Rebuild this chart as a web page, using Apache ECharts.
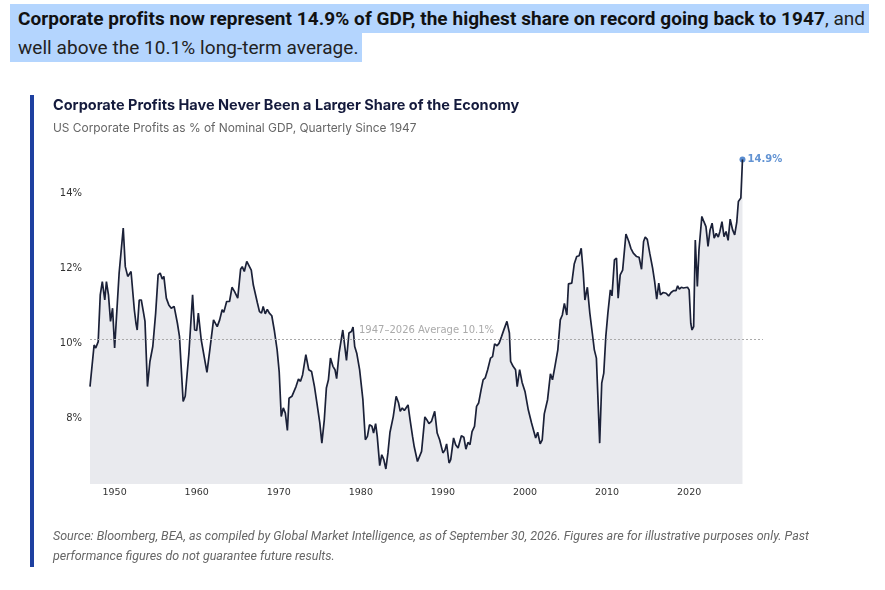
<!DOCTYPE html>
<html>
<head>
<meta charset="utf-8">
<script src="https://cdn.jsdelivr.net/npm/echarts@6/dist/echarts.min.js"></script>
<style>
  body { margin: 0; background: #fff; width: 885px; height: 590px; position: relative; overflow: hidden; }
  #main { position: absolute; left: 0; top: 0; width: 885px; height: 590px; }
  .hl { position: absolute; left: 10px; background: #b4d5fe; font-family: Roboto, sans-serif; font-size: 19px;
        color: #222; padding: 0 4px 0 8px; height: 29px; line-height: 29px; white-space: nowrap; letter-spacing: 0.05px; }
  .hl b { font-weight: 700; color: #111; }
  .bar { position: absolute; left: 30px; top: 95px; width: 4px; height: 472px; background: #1e40a0; }
  .title { position: absolute; left: 53px; top: 96px; font-family: Inter, sans-serif; font-weight: 700; font-size: 14.5px; color: #141a3c; white-space: nowrap; }
  .sub { position: absolute; left: 53px; top: 120px; font-family: Inter, sans-serif; font-size: 11.9px; color: #666; white-space: nowrap; }
  .note { position: absolute; left: 53px; top: 526px; font-family: Roboto, sans-serif; font-style: italic; font-size: 12.5px;
          color: #666; line-height: 20px; width: 775px; }
</style>
</head>
<body>
<div id="main"></div>
<div class="hl" style="top:4px"><b>Corporate profits now represent 14.9% of GDP, the highest share on record going back to 1947</b>, and</div>
<div class="hl" style="top:33px">well above the 10.1% long-term average.</div>
<div class="bar"></div>
<div class="title">Corporate Profits Have Never Been a Larger Share of the Economy</div>
<div class="sub">US Corporate Profits as % of Nominal GDP, Quarterly Since 1947</div>
<div class="note">Source: Bloomberg, BEA, as compiled by Global Market Intelligence, as of September 30, 2026. Figures are for illustrative purposes only. Past<br>performance figures do not guarantee future results.</div>
<script>
// [year, % of GDP]
const p1940s = [[1947.0,8.84],[1947.5,9.95],[1947.7,9.87],[1948.0,10.04],[1948.25,11.29],[1948.5,11.64],[1948.8,11.15],[1949.0,11.64],[1949.25,11.29],[1949.5,10.58],[1949.75,10.93]]
const p1950s = [[1950.0,9.87],[1950.55,11.87],[1951.05,13.07],[1951.3,12.04],[1951.6,11.78],[1951.8,11.73],[1952.0,11.91],[1952.4,10.89],[1952.6,10.53],[1952.75,10.35],[1953.0,11.15],[1953.25,11.15],[1953.5,10.84],[1953.7,10.58],[1954.0,8.84],[1954.3,9.51],[1954.65,9.91],[1955.0,10.8],[1955.3,11.82],[1955.55,11.87],[1955.8,11.71],[1956.0,11.78],[1956.3,11.2],[1956.6,11.02],[1956.9,10.93],[1957.25,10.98],[1957.65,10.53],[1957.9,10.18],[1958.35,8.44],[1958.6,8.58],[1959.05,9.73],[1959.5,11.29],[1959.75,10.35]]
const p1960s = [[1960.0,10.34],[1960.2,10.8],[1960.55,10.09],[1961.25,9.22],[1961.6,9.82],[1962.05,10.62],[1962.5,10.44],[1962.8,10.62],[1963.1,10.89],[1963.3,10.82],[1963.65,11.11],[1964.0,11.11],[1964.3,11.49],[1964.6,11.38],[1965.0,11.2],[1965.35,11.97],[1965.55,12.04],[1965.8,11.91],[1966.1,12.18],[1966.3,12.22],[1966.65,11.95],[1966.9,11.55],[1967.05,11.51],[1967.4,11.07],[1967.65,10.84],[1967.9,10.8],[1968.1,10.98],[1968.35,10.78],[1968.6,10.9],[1968.85,10.8],[1969.15,10.73],[1969.45,10.35],[1969.8,9.82]]
const p1970s = [[1970.05,9.24],[1970.3,8.04],[1970.55,8.27],[1970.8,8.13],[1971.05,7.67],[1971.25,8.53],[1971.6,8.58],[1971.8,8.62],[1972.1,8.84],[1972.4,9.04],[1972.65,8.98],[1972.9,9.15],[1973.3,9.69],[1973.65,9.29],[1974.0,9.24],[1974.35,8.84],[1974.65,8.4],[1975.0,7.87],[1975.25,7.33],[1975.55,7.96],[1975.8,8.8],[1976.05,9.02],[1976.3,9.6],[1976.6,9.38],[1976.85,9.29],[1977.05,9.05],[1977.35,9.73],[1977.8,10.35],[1978.25,9.54],[1978.55,10.27],[1978.85,10.31],[1979.05,10.43],[1979.25,9.91],[1979.5,9.73],[1979.85,9.29]]
const p1980s = [[1980.25,8.49],[1980.55,7.42],[1980.8,7.51],[1981.05,7.82],[1981.35,7.78],[1981.55,7.6],[1981.8,7.85],[1982.0,7.51],[1982.3,6.73],[1982.55,7.02],[1982.8,6.89],[1983.05,6.64],[1983.3,7.07],[1983.55,7.62],[1983.95,8.04],[1984.3,8.58],[1984.6,8.4],[1984.8,8.18],[1985.05,8.27],[1985.3,8.2],[1985.5,8.18],[1985.75,8.35],[1986.0,7.95],[1986.3,7.51],[1986.5,7.24],[1986.9,6.84],[1987.1,6.8],[1987.4,7.11],[1987.8,8.03],[1988.05,7.95],[1988.3,7.85],[1988.6,7.91],[1988.8,7.91],[1989.0,8.18],[1989.3,7.6],[1989.6,7.42]]
const p1990s = [[1990.0,7.07],[1990.25,7.15],[1990.45,7.31],[1990.75,6.8],[1990.95,6.89],[1991.3,7.47],[1991.55,7.29],[1991.85,7.2],[1992.05,7.18],[1992.25,7.53],[1992.55,7.49],[1992.8,7.17],[1993.05,7.35],[1993.3,7.29],[1993.55,7.64],[1993.85,7.78],[1994.1,8.31],[1994.35,8.4],[1994.65,8.75],[1994.9,9.02],[1995.15,9.07],[1995.45,9.29],[1995.8,9.6],[1996.05,9.64],[1996.3,9.98],[1996.6,9.93],[1996.85,10.0],[1997.15,10.18],[1997.4,10.34],[1997.8,10.58],[1998.1,10.27],[1998.25,9.51],[1998.55,9.38],[1998.85,9.29],[1999.05,8.84],[1999.35,9.29],[1999.65,8.95]]
const p2000s = [[2000.0,8.71],[2000.4,8.22],[2000.8,7.87],[2001.3,7.47],[2001.55,7.62],[2001.85,7.31],[2002.1,7.42],[2002.35,8.11],[2002.75,8.49],[2003.1,9.18],[2003.35,9.02],[2003.65,9.38],[2004.0,9.82],[2004.3,10.62],[2004.55,10.75],[2004.8,11.06],[2005.1,10.75],[2005.3,11.58],[2005.7,11.6],[2006.0,12.11],[2006.3,12.31],[2006.6,12.33],[2006.85,12.53],[2007.1,11.87],[2007.3,11.15],[2007.6,11.49],[2007.9,10.8],[2008.2,10.27],[2008.45,9.82],[2008.7,9.6],[2008.85,9.57],[2009.1,7.33],[2009.35,8.93],[2009.6,9.2],[2009.85,10.18]]
const p2010s = [[2010.1,10.8],[2010.4,11.42],[2010.6,11.26],[2010.9,12.22],[2011.15,12.27],[2011.35,11.2],[2011.6,11.82],[2011.9,11.95],[2012.3,12.91],[2012.65,12.71],[2012.9,12.53],[2013.2,12.4],[2013.6,12.31],[2013.9,12.29],[2014.2,11.97],[2014.45,12.71],[2014.65,12.83],[2014.9,12.77],[2015.2,12.4],[2015.55,12.0],[2015.8,11.64],[2016.05,11.17],[2016.3,11.6],[2016.5,11.29],[2016.85,11.35],[2017.2,11.33],[2017.5,11.26],[2017.8,11.35],[2018.1,11.4],[2018.4,11.4],[2018.6,11.53],[2018.8,11.44],[2019.05,11.49],[2019.3,11.47],[2019.5,11.51],[2019.8,11.49]]
const p2020s = [[2020.0,11.42],[2020.2,10.53],[2020.35,10.35],[2020.55,10.44],[2020.75,12.75],[2021.0,11.51],[2021.2,12.49],[2021.55,13.38],[2021.8,13.24],[2022.05,13.11],[2022.3,12.58],[2022.55,13.02],[2022.8,13.2],[2023.05,12.8],[2023.3,12.93],[2023.55,12.83],[2023.75,12.98],[2024.0,13.24],[2024.25,12.84],[2024.5,12.98],[2024.75,12.74],[2025.0,13.31],[2025.3,13.02],[2025.55,12.89],[2025.8,13.22],[2026.0,13.78],[2026.3,13.87],[2026.5,14.9]]

const avgValue = 10.1
const avgLabel = '1947–2026 Average 10.1%'
const xTicks = [1950, 1960, 1970, 1980, 1990, 2000, 2010, 2020]
const yTicks = [8, 10, 12, 14]

const profits = [].concat(p1940s, p1950s, p1960s, p1970s, p1980s, p1990s, p2000s, p2010s, p2020s)
const latest = profits[profits.length - 1]

let myChart = echarts.init(document.getElementById('main'))
let option = {
  animation: false,
  grid: { left: 90, right: 122, top: 146, bottom: 106 },
  xAxis: {
    type: 'value',
    min: 1947,
    max: 2029,
    axisLine: { show: false },
    axisTick: { show: false },
    splitLine: { show: false },
    axisLabel: {
      customValues: xTicks,
      formatter: (v) => String(v),
      margin: 4,
      color: '#333',
      fontFamily: 'DejaVu Sans',
      fontSize: 9.5,
    },
  },
  yAxis: {
    type: 'value',
    min: 6.24,
    max: 15.26,
    axisLine: { show: false },
    axisTick: { show: false },
    splitLine: { show: false },
    axisLabel: {
      customValues: yTicks,
      formatter: '{value}%',
      margin: 8,
      color: '#333',
      fontFamily: 'DejaVu Sans',
      fontSize: 10,
    },
  },
  series: [
    {
      type: 'line',
      data: profits,
      showSymbol: false,
      lineStyle: { color: '#1b2138', width: 1.7 },
      areaStyle: { color: '#e9eaee', opacity: 1, origin: 'start' },
      markLine: {
        silent: true,
        symbol: 'none',
        lineStyle: { color: '#aaa', type: [2, 2], width: 1 },
        label: {
          formatter: avgLabel,
          position: 'insideMiddleTop',
          color: '#aaa',
          fontFamily: 'DejaVu Sans',
          fontSize: 10,
          distance: 4,
        },
        data: [{ yAxis: avgValue }],
      },
    },
    {
      type: 'scatter',
      data: [latest],
      symbolSize: 6,
      itemStyle: { color: '#2f6fc4' },
      label: {
        show: true,
        position: 'right',
        distance: 2,
        formatter: (p) => p.value[1].toFixed(1) + '%',
        color: '#3b78c8',
        fontFamily: 'DejaVu Sans',
        fontWeight: 'bold',
        fontSize: 10,
      },
    },
  ],
}
myChart.setOption(option)
</script>
</body>
</html>
